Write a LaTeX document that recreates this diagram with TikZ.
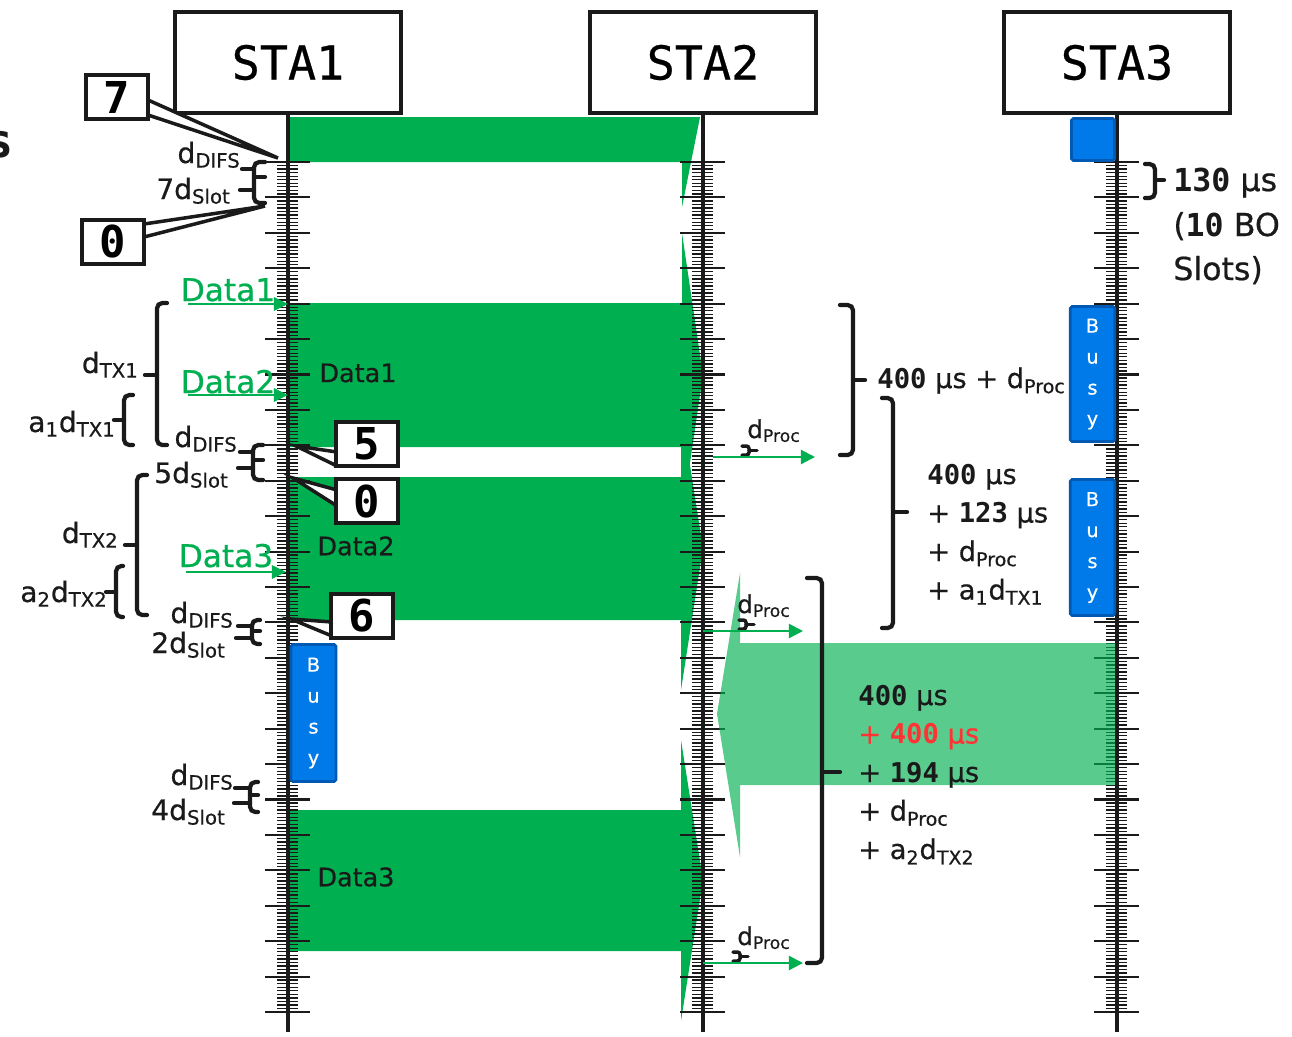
\documentclass[tikz,border=0pt]{standalone}
\usepackage{fontspec}
\setmainfont{DejaVu Sans}[UprightFeatures={FakeBold=0.6}]
\newfontfamily\monofont{DejaVu Sans Mono}[UprightFeatures={FakeBold=0.5}]
\usetikzlibrary{positioning,arrows.meta}
\definecolor{txgreen}{RGB}{0,176,80}
\definecolor{busyblue}{RGB}{0,122,232}
\definecolor{busyedge}{RGB}{0,90,180}
\definecolor{warnred}{RGB}{255,51,51}
\definecolor{inkblack}{RGB}{26,26,26}
\newcommand{\mnum}[1]{{\monofont\bfseries #1}}
\tikzset{
  stabox/.style={draw=inkblack,line width=2.4pt,fill=white,minimum width=4.52cm,minimum height=2.02cm,
    font=\monofont\fontsize{26.6}{30}\selectfont},
  timeline/.style={inkblack,line width=2.8pt},
  minortick/.style={inkblack,line width=0.75pt},
  majortick/.style={inkblack,line width=1.2pt},
  busybox/.style={fill=busyblue,draw=busyedge,line width=1.6pt,rounded corners=1pt,inner sep=0pt,
    text=white,align=center,font=\fontsize{11}{17.6}\selectfont},
  cnt/.style={draw=inkblack,line width=2.2pt,fill=white,minimum width=1.24cm,minimum height=0.88cm,inner sep=0pt,
    font=\monofont\bfseries\fontsize{25}{28}\selectfont},
  cntptr/.style={draw=inkblack,line width=2pt,fill=white},
  brk/.style={inkblack,line width=2.4pt,rounded corners=3pt,line cap=round},
  tinybrk/.style={inkblack,line width=2pt,rounded corners=1.5pt,line cap=round},
  dlbl/.style={inner sep=0pt,text=inkblack,font=\fontsize{16}{19}\selectfont},
  datain/.style={inner sep=0pt,text=inkblack,font=\fontsize{14.5}{17}\selectfont},
  datalbl/.style={inner sep=0pt,text=txgreen,font=\fontsize{17.8}{21}\selectfont},
  rlbl/.style={inner sep=0pt,text=inkblack,font=\fontsize{15.5}{19}\selectfont},
  plbl/.style={inner sep=0pt,text=inkblack,font=\fontsize{14}{17}\selectfont},
  datarrow/.style={txgreen,line width=1.3pt,-{Triangle[length=8pt,width=7.5pt]}},
  procarrow/.style={txgreen,line width=1.2pt,-{Triangle[length=8pt,width=8pt]}}
}

\begin{document}
\begin{tikzpicture}[x=0.02cm,y=-0.02cm]
\useasboundingbox (0,0) rectangle (1292,1036);

% stations
\node[stabox] (sta1) at (288,62.5) {STA1};
\node[stabox] (sta2) at (703,62.5) {STA2};
\node[stabox] (sta3) at (1117,62.5) {STA3};
\node[anchor=base east,inner sep=0pt,text=inkblack,font=\monofont\bfseries\fontsize{26.6}{30}\selectfont] (cut) at (14,157) {s};

% frames sent by STA1
\fill[txgreen] (290,117) -- (700,117) -- (682,207) -- (682,162) -- (290,162) -- cycle;
\fill[txgreen] (290,303) -- (682,303) -- (682,233) -- (703,375) -- (682,517) -- (682,447) -- (290,447) -- cycle;
\fill[txgreen] (290,477) -- (681,477) -- (681,408) -- (703,548) -- (681,690) -- (681,620) -- (290,620) -- cycle;
\fill[txgreen] (290,810) -- (681,810) -- (681,740) -- (703,880) -- (681,1021) -- (681,951) -- (290,951) -- cycle;

% time axes
\coordinate (bot1) at (288,1032);
\coordinate (bot2) at (703,1032);
\coordinate (bot3) at (1117,1032);
\foreach \lx in {288,703,1117}{
  \foreach \k in {0,...,240}
    \draw[minortick] (\lx-11,162+\k*3.5417) -- (\lx+10,162+\k*3.5417);
  \foreach \k in {0,...,24}
    \draw[majortick] (\lx-23,162+\k*35.417) -- (\lx+22,162+\k*35.417);
}
\draw[timeline] (sta1.south) -- (bot1);
\draw[timeline] (sta2.south) -- (bot2);
\draw[timeline] (sta3.south) -- (bot3);

% busy medium
\node[busybox,minimum width=0.9cm,minimum height=2.74cm] (busy1) at (313.5,713) {B\\u\\s\\y};
\node[busybox,minimum width=0.86cm,minimum height=0.84cm] (busy0) at (1093,139.5) {};
\node[busybox,minimum width=0.89cm,minimum height=2.7cm] (busy2) at (1092.5,374) {B\\u\\s\\y};
\node[busybox,minimum width=0.89cm,minimum height=2.72cm] (busy3) at (1092.5,547.5) {B\\u\\s\\y};

% frame sent by STA3
\fill[txgreen,fill opacity=0.65] (740,573) -- (740,643) -- (1115,643) -- (1115,785) -- (740,785) -- (740,857) -- (717,714) -- cycle;

% backoff counters
\draw[cntptr] (148,100) -- (278,158) -- (148,115);
\node[cnt] (c7) at (117,97) {7};
\draw[cntptr] (144,224) -- (265,206) -- (144,237);
\node[cnt] (c0a) at (113,242) {0};
\draw[cntptr] (337,452) -- (296,446) -- (337,466);
\node[cnt] (c5) at (367,444) {5};
\draw[cntptr] (337,490) -- (293,478) -- (337,506);
\node[cnt] (c0b) at (367,501) {0};
\draw[cntptr] (332,622) -- (291,619) -- (332,636);
\node[cnt] (c6) at (362,616) {6};

% arrivals at STA1
\node[datalbl,anchor=base] (in1) at (228,301) {Data1};
\node[datalbl,anchor=base] (in2) at (228,393) {Data2};
\node[datalbl,anchor=base] (in3) at (226,567) {Data3};
\coordinate (in1s) at (188,304); \coordinate (in1e) at (288,304);
\coordinate (in2s) at (188,395); \coordinate (in2e) at (288,395);
\coordinate (in3s) at (186,572); \coordinate (in3e) at (286,572);
\draw[datarrow] (in1s) -- (in1e);
\draw[datarrow] (in2s) -- (in2e);
\draw[datarrow] (in3s) -- (in3e);

\node[datain] (tx1) at (358,373) {Data1};
\node[datain] (tx2) at (356,546) {Data2};
\node[datain] (tx3) at (356,877) {Data3};

% DIFS and slots at STA1
\draw[brk] (265,162) -- (254,162) -- (254,203) -- (265,203);
\draw[brk] (254,177) -- (265,177);
\draw[brk] (254,169) -- (242,169);
\draw[brk] (254,190) -- (240,190);
\node[dlbl,anchor=base east] (difs1) at (241,163) {d\textsubscript{DIFS}};
\node[dlbl,anchor=base east] (slot1) at (231,199) {7d\textsubscript{Slot}};

\draw[brk] (263,445) -- (253,445) -- (253,480) -- (263,480);
\draw[brk] (253,460) -- (263,460);
\draw[brk] (253,452) -- (240,452);
\draw[brk] (253,468) -- (238,468);
\node[dlbl,anchor=base east] (difs2) at (238,447) {d\textsubscript{DIFS}};
\node[dlbl,anchor=base east] (slot2) at (229,483) {5d\textsubscript{Slot}};

\draw[brk] (260,620) -- (252,620) -- (252,644) -- (260,644);
\draw[brk] (252,631) -- (260,631);
\draw[brk] (252,626) -- (238,626);
\draw[brk] (252,638) -- (236,638);
\node[dlbl,anchor=base east] (difs3) at (234,623) {d\textsubscript{DIFS}};
\node[dlbl,anchor=base east] (slot3) at (226,653) {2d\textsubscript{Slot}};

\draw[brk] (258,782) -- (250,782) -- (250,812) -- (258,812);
\draw[brk] (250,795) -- (258,795);
\draw[brk] (250,788) -- (235,788);
\draw[brk] (250,803) -- (234,803);
\node[dlbl,anchor=base east] (difs4) at (234,785) {d\textsubscript{DIFS}};
\node[dlbl,anchor=base east] (slot4) at (226,820) {4d\textsubscript{Slot}};

% frame lengths
\draw[brk] (167,303) -- (157,303) -- (157,445) -- (167,445);
\draw[brk] (157,375) -- (145,375);
\node[dlbl,anchor=base east] (len1) at (139,373) {d\textsubscript{TX1}};
\draw[brk] (133,395) -- (124,395) -- (124,445) -- (133,445);
\draw[brk] (124,420) -- (114,420);
\node[dlbl,anchor=base east] (part1) at (116,432) {a\textsubscript{1}d\textsubscript{TX1}};
\draw[brk] (147,475) -- (137,475) -- (137,615) -- (147,615);
\draw[brk] (137,545) -- (125,545);
\node[dlbl,anchor=base east] (len2) at (119,543) {d\textsubscript{TX2}};
\draw[brk] (123,566) -- (116,566) -- (116,617) -- (123,617);
\draw[brk] (116,592) -- (106,592);
\node[dlbl,anchor=base east] (part2) at (108,602) {a\textsubscript{2}d\textsubscript{TX2}};

% processing at STA2
\draw[tinybrk] (742,446) -- (749,446) -- (749,455) -- (742,455);
\draw[tinybrk] (749,450.5) -- (757,450.5);
\node[plbl,anchor=base west] (proc1) at (747,438) {d\textsubscript{Proc}};
\draw[tinybrk] (739,620) -- (746,620) -- (746,629) -- (739,629);
\draw[tinybrk] (746,624.5) -- (754,624.5);
\node[plbl,anchor=base west] (proc2) at (737,613) {d\textsubscript{Proc}};
\draw[tinybrk] (733,952) -- (740,952) -- (740,961) -- (733,961);
\draw[tinybrk] (740,956.5) -- (748,956.5);
\node[plbl,anchor=base west] (proc3) at (737,945) {d\textsubscript{Proc}};
\coordinate (ack1s) at (713,457); \coordinate (ack1e) at (815,457);
\coordinate (ack2s) at (703,631); \coordinate (ack2e) at (803,631);
\coordinate (ack3s) at (703,963); \coordinate (ack3e) at (803,963);
\draw[procarrow] (ack1s) -- (ack1e);
\draw[procarrow] (ack2s) -- (ack2e);
\draw[procarrow] (ack3s) -- (ack3e);

% delays
\draw[brk] (840,305) -- (853,305) -- (853,455) -- (840,455);
\draw[brk] (853,380) -- (865,380);
\node[rlbl,anchor=base west] (wait1) at (877,388) {\mnum{400} µs + d\textsubscript{Proc}};

\draw[brk] (882,398) -- (893,398) -- (893,628) -- (882,628);
\draw[brk] (893,512) -- (907,512);
\node[rlbl,anchor=base west] (wait2a) at (927,484) {\mnum{400} µs};
\node[rlbl,anchor=base west] (wait2b) at (927,522.5) {+ \mnum{123} µs};
\node[rlbl,anchor=base west] (wait2c) at (927,561) {+ d\textsubscript{Proc}};
\node[rlbl,anchor=base west] (wait2d) at (927,599.5) {+ a\textsubscript{1}d\textsubscript{TX1}};

\draw[brk] (807,578) -- (822,578) -- (822,963) -- (807,963);
\draw[brk] (822,772) -- (840,772);
\node[rlbl,anchor=base west] (wait3a) at (858,705) {\mnum{400} µs};
\node[rlbl,anchor=base west,text=warnred] (wait3b) at (858,743.5) {+ \mnum{400} µs};
\node[rlbl,anchor=base west] (wait3c) at (858,782) {+ \mnum{194} µs};
\node[rlbl,anchor=base west] (wait3d) at (858,820.5) {+ d\textsubscript{Proc}};
\node[rlbl,anchor=base west] (wait3e) at (858,859) {+ a\textsubscript{2}d\textsubscript{TX2}};

% backoff of STA3
\draw[brk] (1145,164) -- (1155,164) -- (1155,198) -- (1145,198);
\draw[brk] (1155,180) -- (1164,180);
\node[rlbl,anchor=base west,font=\fontsize{18}{21}\selectfont] (bo1) at (1173,191) {\mnum{130} µs};
\node[rlbl,anchor=base west,font=\fontsize{18}{21}\selectfont] (bo2) at (1173,236) {(\mnum{10} BO};
\node[rlbl,anchor=base west,font=\fontsize{18}{21}\selectfont] (bo3) at (1173,280) {Slots)};
\end{tikzpicture}
\end{document}
